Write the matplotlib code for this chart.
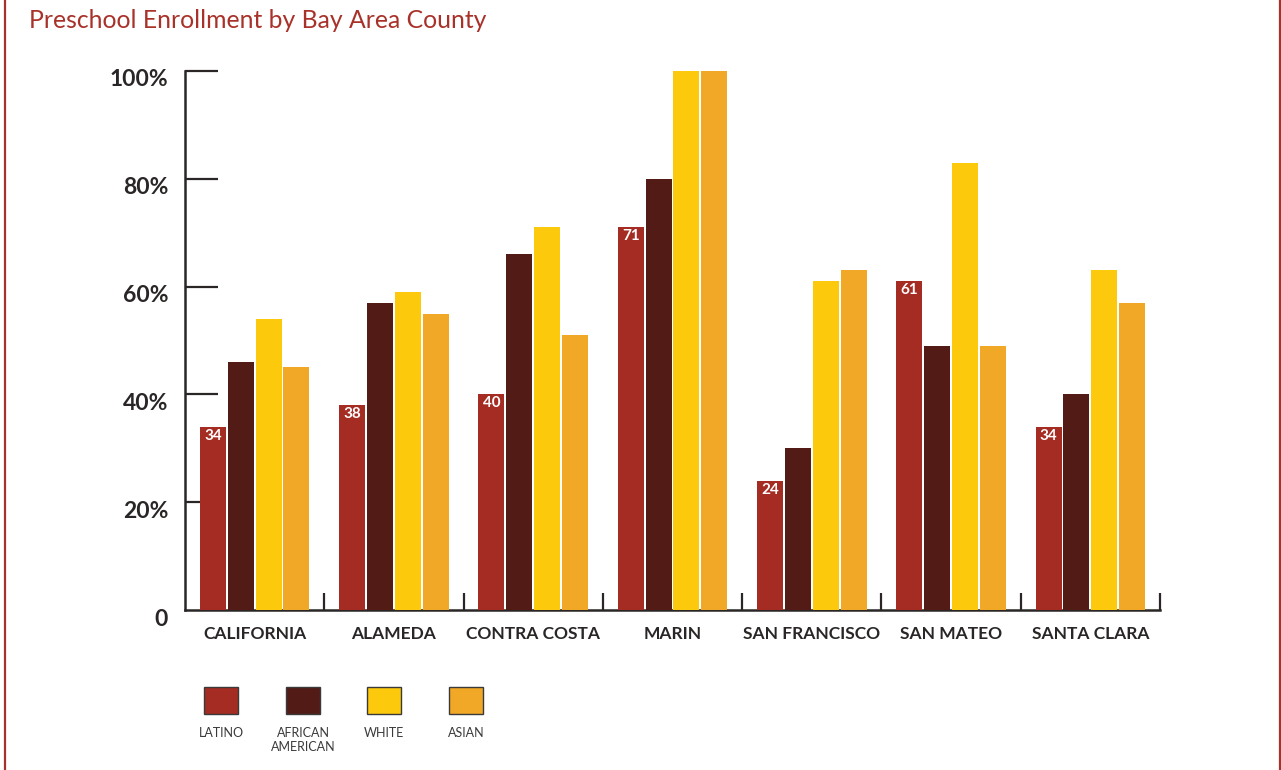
import matplotlib
matplotlib.use("Agg")
import matplotlib.pyplot as plt
from matplotlib.patches import Rectangle
from matplotlib.lines import Line2D
from matplotlib.transforms import ScaledTranslation
import numpy as np

# ---- data ----
counties = ["CALIFORNIA", "ALAMEDA", "CONTRA COSTA", "MARIN",
            "SAN FRANCISCO", "SAN MATEO", "SANTA CLARA"]
groups = ["LATINO", "AFRICAN\nAMERICAN", "WHITE", "ASIAN"]
latino = [34, 38, 40, 71, 24, 61, 34]
african_american = [46, 57, 66, 80, 30, 49, 40]
white = [54, 59, 71, 100, 61, 83, 63]
asian = [45, 55, 51, 100, 63, 49, 57]
ytick_values = [0, 20, 40, 60, 80, 100]
ytick_labels = ["0", "20%", "40%", "60%", "80%", "100%"]

series = [latino, african_american, white, asian]
colors = ["#A52C22", "#521B16", "#FDC90D", "#F0A826"]
ink = "#2A2626"
red = "#A8322A"

plt.rcParams["font.family"] = ["Lato", "DejaVu Sans"]

W, H = 1281, 770
fig = plt.figure(figsize=(W / 100, H / 100), dpi=100)
fig.patch.set_facecolor("white")

# page frame: red rules on the left and right edges
fig.add_artist(Line2D([4.5 / W, 4.5 / W], [0, 1], transform=fig.transFigure,
                      color=red, lw=1.6))
fig.add_artist(Line2D([1279.5 / W, 1279.5 / W], [0, 1], transform=fig.transFigure,
                      color=red, lw=1.6))

fig.text(29 / W, 1 - 21 / H, "Preschool Enrollment by Bay Area County",
         color=red, fontsize=17.8, ha="left", va="center")

ax = fig.add_axes([185 / W, (H - 610) / H, (1160 - 185) / W, 539 / H])
ax.set_xlim(0, len(counties))
ax.set_ylim(0, 100)

x = np.arange(len(counties))
offsets = [0.2, 0.4, 0.6, 0.8]
bar_w = 0.187
for vals, off, col in zip(series, offsets, colors):
    ax.bar(x + off, vals, width=bar_w, color=col, zorder=3, clip_on=False)

# value tags inside the Latino bars
dpt = fig.dpi_scale_trans
for xi, v in zip(x, latino):
    ax.text(xi + offsets[0], v, str(v), color="white", fontsize=11,
            fontweight="bold", ha="center", va="center", zorder=4,
            transform=ax.transData + ScaledTranslation(0, -9 / 100, dpt))

# axes styling
for s in ["top", "right"]:
    ax.spines[s].set_visible(False)
for s in ["left", "bottom"]:
    ax.spines[s].set_color(ink)
    ax.spines[s].set_linewidth(1.8)
    ax.spines[s].set_zorder(2)

ax.set_yticks(ytick_values[1:])
ax.tick_params(axis="y", direction="in", length=24, width=1.6, color=ink,
               labelleft=False)
ax.set_xticks(np.arange(1, len(counties) + 1))
ax.tick_params(axis="x", direction="in", length=12, width=1.6, color=ink,
               labelbottom=False)

ytrans = ax.get_yaxis_transform() + ScaledTranslation(-17 / 100, -9 / 100, dpt)
for v, lab in zip(ytick_values, ytick_labels):
    ax.text(0, v, lab, transform=ytrans, ha="right", va="center",
            fontsize=16.5, fontweight="bold", color=ink)

xtrans = ax.get_xaxis_transform() + ScaledTranslation(0, -24 / 100, dpt)
for xi, name in zip(x, counties):
    ax.text(xi + 0.5, 0, name, transform=xtrans, ha="center", va="center",
            fontsize=12.5, fontweight="bold", color=ink)

# legend: swatches with captions underneath
sw_left = [204, 286, 367, 449]
for lx, col, lab in zip(sw_left, colors, groups):
    fig.add_artist(Rectangle((lx / W, 1 - 714 / H), 34 / W, 27 / H,
                             transform=fig.transFigure, facecolor=col,
                             edgecolor="#3a3a3a", lw=1.0))
    fig.text((lx + 17) / W, 1 - 727 / H, lab, ha="center", va="top",
             fontsize=9, color="#3a3a3a", linespacing=1.2)

fig.savefig("out.png", dpi=100, facecolor="white")
